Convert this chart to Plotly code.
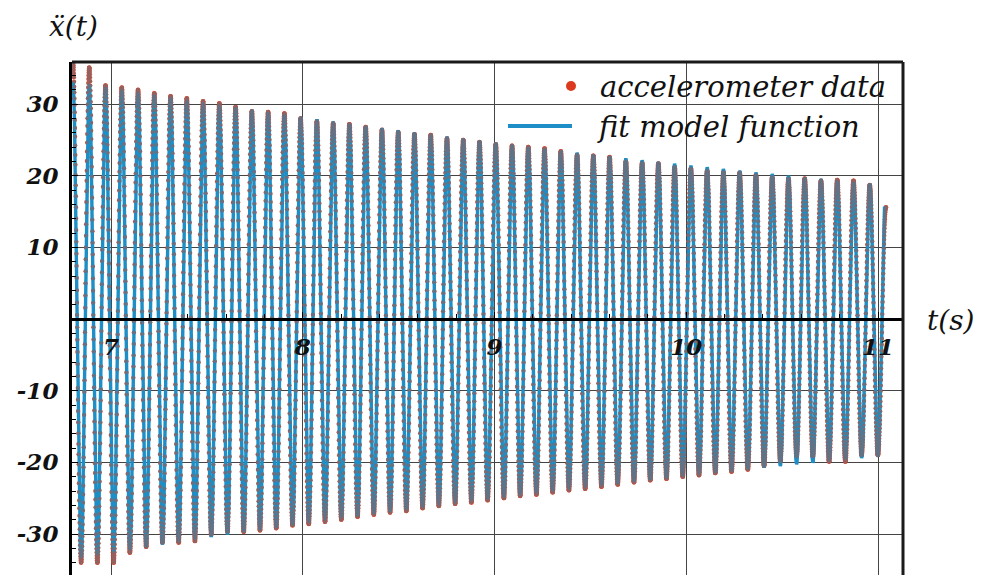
import numpy as np
import plotly.graph_objects as go

# ---- measured extremes of the accelerometer signal (m/s^2) ----
# successive positive peaks, one per oscillation cycle
peak_values = [35.8, 35.1, 32.6, 32.3, 32.0, 31.5, 31.1, 30.8, 30.4, 30.1,
               29.6, 29.0, 28.9, 28.7, 28.0, 27.6, 27.3, 27.2, 26.8, 26.4,
               26.1, 25.8, 25.7, 25.2, 25.0, 24.7, 24.4, 24.2, 24.0, 23.8,
               23.4, 22.9, 22.8, 22.6, 22.0, 21.8, 21.7, 21.2, 21.0, 20.7,
               20.5, 20.4, 20.1, 19.8, 19.6, 19.6, 19.3, 19.4, 19.3, 18.7,
               15.6]
# successive negative troughs, between the peaks above
trough_values = [-34.0, -34.0, -34.0, -32.6, -31.8, -31.2, -31.2, -31.0, -30.1, -29.7,
                 -29.7, -29.5, -29.2, -28.8, -28.6, -28.3, -28.0, -27.6, -27.3, -27.0,
                 -26.8, -26.4, -26.1, -25.8, -25.6, -25.3, -25.0, -24.7, -24.5, -24.2,
                 -23.9, -23.7, -23.4, -23.1, -22.8, -22.5, -22.3, -22.0, -21.8, -21.5,
                 -21.3, -21.0, -20.5, -19.9, -19.2, -19.2, -19.9, -19.9, -19.0, -19.0]
first_peak_time = 6.8018      # s
oscillation_period = 0.08480  # s
sample_rate = 1500.0          # Hz

# ---- fitted model: damped cosine ----
fit_amplitude = 33.3
fit_decay = 0.134
fit_offset = -0.2

x_ticks = [7, 8, 9, 10, 11]
y_ticks = [-30, -20, -10, 10, 20, 30]
x_range = [6.7966, 11.1304]
y_range = [-35.72, 35.86]

# ---- build the sampled signal between successive extremes ----
ext_vals = np.empty(len(peak_values) + len(trough_values))
ext_vals[0::2] = peak_values
ext_vals[1::2] = trough_values
half = oscillation_period / 2
ext_times = first_peak_time + np.arange(len(ext_vals)) * half
t_data = np.arange(ext_times[0], ext_times[-1], 1.0 / sample_rate)
k = np.clip(np.searchsorted(ext_times, t_data, side="right") - 1, 0, len(ext_vals) - 2)
u = (t_data - ext_times[k]) / half
a, b = ext_vals[k], ext_vals[k + 1]
a_data = (a + b) / 2 + (a - b) / 2 * np.cos(np.pi * u)

freq = 1.0 / oscillation_period


def fit_model(t):
    return (fit_amplitude * np.exp(-fit_decay * (t - first_peak_time))
            * np.cos(2 * np.pi * freq * (t - first_peak_time)) + fit_offset)


t_fit = np.linspace(first_peak_time, ext_times[-1] - 0.0077, 9000)
a_fit = fit_model(t_fit)

RED = "#dc3a1e"
BLUE = "#1d8fc6"
FONT = "DejaVu Serif"

fig = go.Figure()
# data points, the fitted curve over them, and a faint second pass of
# the points so they stay visible where they sit on the curve
fig.add_trace(go.Scatter(
    x=t_data, y=a_data, mode="markers", name="accelerometer data",
    marker=dict(color=RED, size=4.4, line=dict(width=0)), opacity=0.9,
    showlegend=False))
fig.add_trace(go.Scatter(
    x=t_fit, y=a_fit, mode="lines", name="fit model function",
    line=dict(color=BLUE, width=3.4), showlegend=False))
fig.add_trace(go.Scatter(
    x=t_data, y=a_data, mode="markers", name="accelerometer data",
    marker=dict(color="#7a6a70", size=3.6, line=dict(width=0)), opacity=0.75,
    showlegend=False, hoverinfo="skip"))

W, H = 986, 575
L, R, T, B = 72, 83, 62, 0
pw, ph = W - L - R, H - T - B


def px(x):
    return (x - L) / pw


def py(y):
    return (H - B - y) / ph


shapes = [
    dict(type="line", xref="paper", yref="paper", x0=0, x1=1, y0=1, y1=1,
         line=dict(color="#1a1a1a", width=3)),
    dict(type="line", xref="paper", yref="paper", x0=1, x1=1, y0=0, y1=1,
         line=dict(color="#1a1a1a", width=3)),
    # legend samples
    dict(type="circle", xref="paper", yref="paper",
         x0=px(566), x1=px(576), y0=py(91), y1=py(81),
         fillcolor=RED, line=dict(width=0)),
    dict(type="line", xref="paper", yref="paper",
         x0=px(508), x1=px(572), y0=py(126), y1=py(126),
         line=dict(color=BLUE, width=4)),
]

annotations = [
    dict(text="accelerometer data", x=px(598), y=py(87), xref="paper", yref="paper",
         xanchor="left", yanchor="middle", showarrow=False,
         font=dict(family=FONT, size=29, style="italic", color="#111")),
    dict(text="fit model function", x=px(595), y=py(127), xref="paper", yref="paper",
         xanchor="left", yanchor="middle", showarrow=False,
         font=dict(family=FONT, size=29, style="italic", color="#111")),
    dict(text="\u1e8d(t)", x=px(73), y=py(26), xref="paper", yref="paper",
         xanchor="center", yanchor="middle", showarrow=False,
         font=dict(family=FONT, size=28, style="italic", color="#111")),
    dict(text="t(s)", x=px(950), y=py(320), xref="paper", yref="paper",
         xanchor="center", yanchor="middle", showarrow=False,
         font=dict(family=FONT, size=28, style="italic", color="#111")),
]

tick_font = dict(family=FONT, size=23, style="italic", weight="bold", color="#111")

fig.update_layout(
    width=W, height=H,
    margin=dict(l=L, r=R, t=T, b=B, pad=0),
    paper_bgcolor="white", plot_bgcolor="white",
    shapes=shapes, annotations=annotations,
    xaxis=dict(
        range=x_range, tickvals=x_ticks, ticktext=[str(v) for v in x_ticks],
        anchor="free", position=(0 - y_range[0]) / (y_range[1] - y_range[0]),
        showline=True, linecolor="black", linewidth=3,
        ticks="inside", ticklen=6, tickwidth=1, tickcolor="black",
        minor=dict(dtick=0.2, ticks="inside", ticklen=4, tickcolor="black", showgrid=False),
        showgrid=True, gridcolor="#444", gridwidth=1, zeroline=False,
        tickfont=tick_font, ticklabelstandoff=6,
    ),
    yaxis=dict(
        range=y_range, tickvals=y_ticks, ticktext=[str(v) for v in y_ticks],
        showline=True, linecolor="black", linewidth=3,
        ticks="inside", ticklen=6, tickwidth=1, tickcolor="black",
        minor=dict(dtick=2, ticks="inside", ticklen=4, tickcolor="black", showgrid=False),
        showgrid=True, gridcolor="#444", gridwidth=1, zeroline=False,
        tickfont=tick_font, ticklabelstandoff=6,
    ),
)

fig.write_html("out.html")
